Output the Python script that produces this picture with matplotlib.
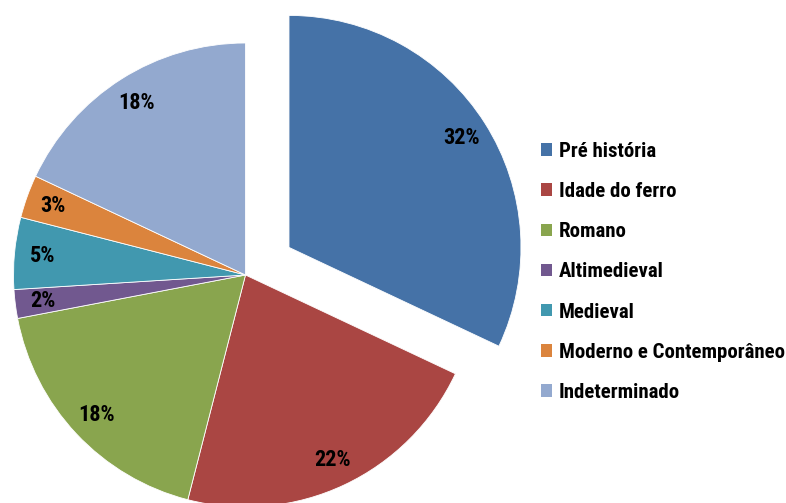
import matplotlib
matplotlib.use("Agg")
import matplotlib.pyplot as plt
from matplotlib.patches import Patch

categories = ["Pré história", "Idade do ferro", "Romano", "Altimedieval",
              "Medieval", "Moderno e Contemporâneo", "Indeterminado"]
values = [32, 22, 18, 2, 5, 3, 18]
colors = ["#4572A7", "#AA4643", "#89A54E", "#71588F", "#4198AF", "#DB843D", "#93A9CF"]
explode = [0.222, 0, 0, 0, 0, 0, 0]

plt.rcParams["font.family"] = ["Roboto Condensed", "DejaVu Sans"]

W, H = 786, 503
fig = plt.figure(figsize=(W / 100, H / 100), dpi=100)
ax = fig.add_axes([0, 0, 1, 1])

# pie centre and radius in pixels
cx, cy, r = 245.5, 275.0, 232.0

wedges, texts, autotexts = ax.pie(
    values, colors=colors, explode=explode, startangle=90, counterclock=False,
    autopct=lambda p: f"{p:.0f}%", pctdistance=0.88,
    wedgeprops=dict(edgecolor="white", linewidth=0.6),
    textprops=dict(fontsize=16, fontweight="bold", color="black"),
)

ax.set_aspect("auto")
ax.set_xlim((0 - cx) / r, (W - cx) / r)
ax.set_ylim((cy - H) / r, (cy - 0) / r)
ax.axis("off")

handles = [Patch(facecolor=c, edgecolor="none") for c in colors]
leg = fig.legend(
    handles, categories, loc="upper left",
    bbox_to_anchor=(541 / W, 1 - 142 / H), frameon=False,
    prop=dict(size=15, weight="bold"),
    handlelength=0.55, handleheight=0.55, handletextpad=0.3,
    labelspacing=1.015, borderpad=0, borderaxespad=0,
)

fig.savefig("out.png", dpi=100)
